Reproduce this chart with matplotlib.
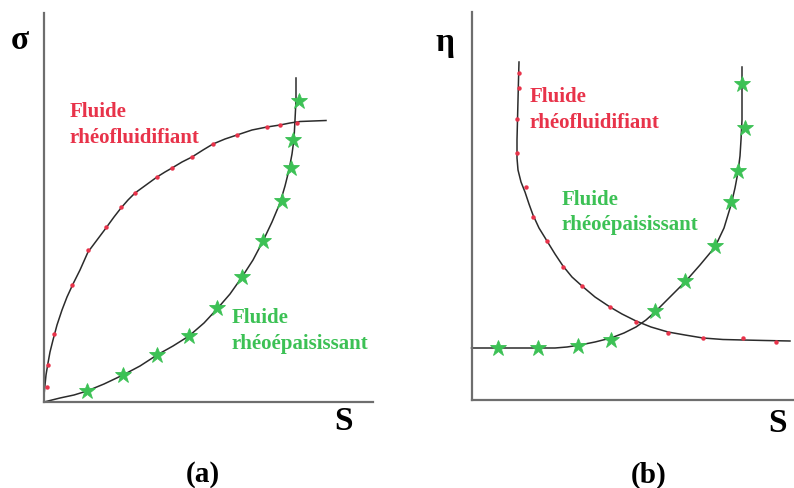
import matplotlib
matplotlib.use("Agg")
import matplotlib.pyplot as plt

plt.rcParams['font.family'] = ['Liberation Serif', 'DejaVu Serif']

RED = '#e8334a'
GREEN = '#3cc155'
AXIS = '#6e6e6e'
CURVE = '#2b2b2b'

# ---- panel (a): stress sigma vs shear rate S ----
a_red_x = [2.7, 4.3, 10, 27.7, 44.3, 62, 76.7, 91, 113, 128, 147.7, 169, 192.7, 222.7, 236, 252.7]
a_red_y = [15.3, 37, 68, 117, 152, 175, 195, 209, 225, 234, 245, 258, 267, 275, 277, 279.3]
a_red_curve_x = [0, 0, 1, 2, 4, 6, 9, 13, 18, 23, 29, 36, 44, 53, 62, 70, 77, 84, 91, 102,
                 113, 121, 128, 138, 148, 159, 169, 181, 193, 208, 223, 236, 246, 256, 282]
a_red_curve_y = [0, 7, 17, 27, 39, 50, 62, 77, 92, 105, 118, 132, 150, 162, 174, 185, 194, 202, 209, 217,
                 225, 230, 234, 240, 245, 252, 258, 263, 267, 272, 275, 277, 279, 280.5, 281.5]

a_green_x = [42.7, 79, 112.7, 145, 173, 197.7, 219, 237.7, 246.7, 249.3, 255]
a_green_y = [11.3, 27, 47, 66, 94, 125.3, 161.3, 201.3, 234, 262, 301.3]
a_green_curve_x = [0, 8, 16, 30, 43, 60, 79, 96, 113, 129, 145, 160, 173, 186, 198, 209, 219,
                   228, 236, 241, 245, 248, 250, 251, 252, 252]
a_green_curve_y = [0, 2, 4, 7, 11, 18, 27, 36, 47, 56, 66, 79, 93, 108, 125, 142, 161,
                   180, 199, 216, 232, 248, 263, 282, 302, 324]

# ---- panel (b): viscosity eta vs shear rate S ----
b_red_x = [47.5, 47.8, 45.2, 45.2, 54.2, 61.5, 75.2, 91.5, 110.2, 138.5, 164.5, 196.5, 231.2, 271.5, 304.2]
b_red_y = [327, 312, 281, 247, 213, 183, 159, 133, 114, 93, 78, 67, 62, 62, 58]
b_red_curve_x = [47.5, 47, 46.5, 46, 45.5, 45.5, 46.5, 49.5, 53.5, 57.5, 61.5, 67.5, 75.5, 83.5, 91.5,
                 100.5, 110.5, 123.5, 138.5, 150.5, 164.5, 179.5, 196.5, 213.5, 231.5, 251.5, 271.5,
                 293.5, 318.5]
b_red_curve_y = [338, 320, 300, 280, 260, 242, 230, 218, 208, 196, 185, 172, 159, 146, 134,
                 123, 114, 103, 93, 86, 79, 73, 68, 65, 62, 60.5, 60,
                 59.5, 59]

b_green_x = [26.5, 66.5, 106.5, 139.5, 183.5, 213.5, 243.5, 259.5, 266.5, 273.5, 270.2]
b_green_y = [52, 52, 54, 60, 89, 119, 154, 198, 229, 272, 316]
b_green_curve_x = [0, 83.5, 95.5, 108.5, 123.5, 139.5, 152.5, 164.5, 174.5, 183.5, 198.5, 213.5,
                   228.5, 243.5, 252.5, 259.5, 263.5, 266.5, 268.5, 269.5, 270.5, 270.5, 270.5]
b_green_curve_y = [52, 52, 53, 55, 58, 62, 67, 73, 80, 88, 103, 118,
                   135, 153, 172, 195, 212, 228, 244, 260, 280, 300, 333]

W, H = 794, 488
fig = plt.figure(figsize=(W / 100, H / 100), dpi=100)
fig.patch.set_facecolor('white')


def make_axes(left, bottom, right, top):
    # rect given in pixels of the reference picture
    ax = fig.add_axes([left / W, 1 - bottom / H, (right - left) / W, (bottom - top) / H])
    ax.set_xlim(0, right - left)
    ax.set_ylim(0, bottom - top)
    for s in ('top', 'right'):
        ax.spines[s].set_visible(False)
    for s in ('left', 'bottom'):
        ax.spines[s].set_color(AXIS)
        ax.spines[s].set_linewidth(1.6)
    ax.set_xticks([])
    ax.set_yticks([])
    ax.patch.set_alpha(0)
    return ax


def draw_panel(ax, rx, ry, rcx, rcy, gx, gy, gcx, gcy):
    ax.plot(rcx, rcy, color=CURVE, lw=1.1, clip_on=False, zorder=2)
    ax.plot(gcx, gcy, color=CURVE, lw=1.1, clip_on=False, zorder=2)
    ax.plot(rx, ry, ls='none', marker='o', ms=3.2, color=RED, mec='none', clip_on=False, zorder=3)
    ax.plot(gx, gy, ls='none', marker='*', ms=12, color=GREEN, mec=GREEN, mew=0.6, clip_on=False, zorder=3)


color_label = {RED: 'rhéofluidifiant', GREEN: 'rhéoépaisissant'}


def two_lines(ax, x, y1, y2, color):
    kw = dict(color=color, fontsize=15, fontweight='bold', ha='left', va='baseline')
    ax.text(x, y1, 'Fluide', **kw)
    ax.text(x, y2, color_label[color], **kw)


big = dict(fontsize=24, fontweight='bold', ha='center', va='center', color='black', clip_on=False)
sub = dict(fontsize=21, fontweight='bold', ha='center', va='center', color='black', clip_on=False)

# panel (a)
ax1 = make_axes(44, 402, 373, 13)
draw_panel(ax1, a_red_x, a_red_y, a_red_curve_x, a_red_curve_y,
           a_green_x, a_green_y, a_green_curve_x, a_green_curve_y)
two_lines(ax1, 26, 285, 259, RED)
two_lines(ax1, 188, 79, 53, GREEN)
ax1.text(-24, 362, 'σ', **big)
ax1.text(300, -19, 'S', **big)
ax1.text(159, -73, '(a)', **sub)

# panel (b)
ax2 = make_axes(471.5, 400, 794, 12)
draw_panel(ax2, b_red_x, b_red_y, b_red_curve_x, b_red_curve_y,
           b_green_x, b_green_y, b_green_curve_x, b_green_curve_y)
two_lines(ax2, 58.5, 298, 272, RED)
two_lines(ax2, 90.5, 195, 170, GREEN)
ax2.text(-26.5, 358, 'η', **big)
ax2.text(306.5, -24, 'S', **big)
ax2.text(177.5, -75, '(b)', **sub)

fig.savefig('out.png', dpi=100)
